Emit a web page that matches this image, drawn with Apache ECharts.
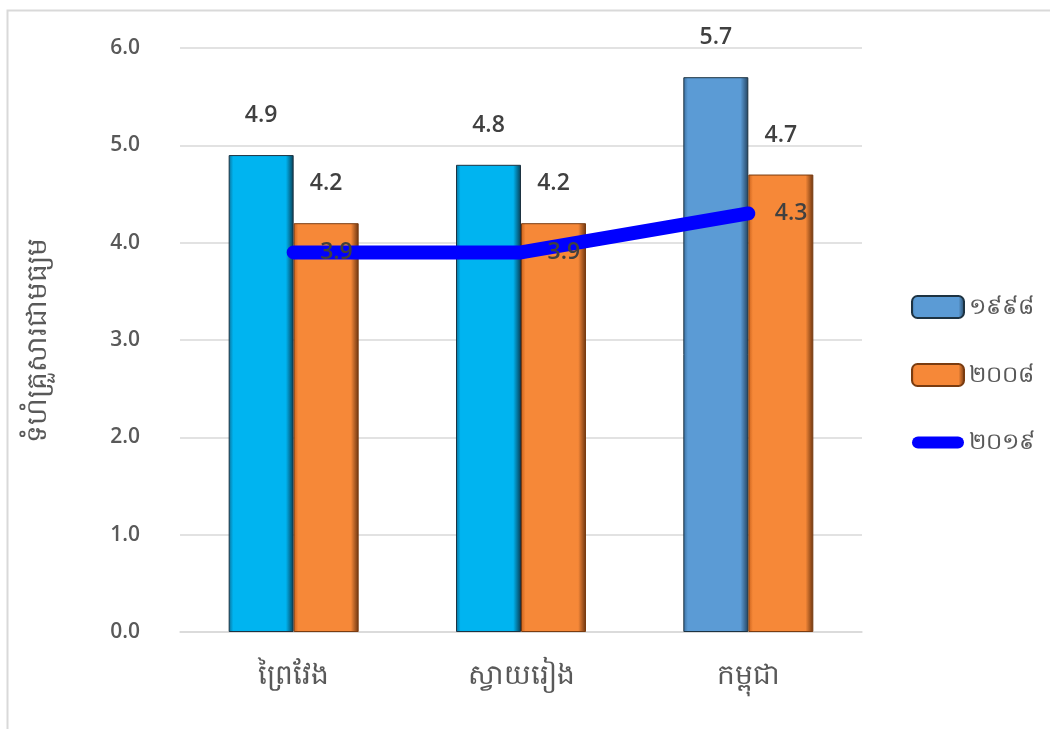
<!DOCTYPE html>
<html>
<head>
<meta charset="utf-8">
<script src="https://cdn.jsdelivr.net/npm/echarts@6/dist/echarts.min.js"></script>
<style>
html,body{margin:0;padding:0;background:#fff;}
#chart{width:1050px;height:729px;}
</style>
</head>
<body>
<div id="chart"></div>
<script>
const categories = ['ព្រៃវែង', 'ស្វាយរៀង', 'កម្ពុជា'];
const seriesNames = ['១៩៩៨', '២០០៨', '២០១៩'];
const values1998 = [4.9, 4.8, 5.7];
const values2008 = [4.2, 4.2, 4.7];
const values2019 = [3.9, 3.9, 4.3];
const yTicks = [0, 1, 2, 3, 4, 5, 6];
const yAxisTitle = 'ទំហំគ្រួសារជាមធ្យម';

function hGrad(edgeL, main, edgeR) {
  return new echarts.graphic.LinearGradient(0, 0, 1, 0, [
    {offset: 0, color: edgeL},
    {offset: 0.07, color: main},
    {offset: 0.88, color: main},
    {offset: 1, color: edgeR}
  ]);
}
const cyan = hGrad('#0b6f96', '#00B4F0', '#083c52');
const steel = hGrad('#3a6f9f', '#5B9BD5', '#24435f');
const orange = hGrad('#c9611c', '#F68838', '#6b3410');

const labelFont = {fontFamily: 'Open Sans', fontWeight: 600, fontSize: 23, color: '#404040'};

const chart = echarts.init(document.getElementById('chart'));
chart.setOption({
  animation: false,
  backgroundColor: '#fff',
  graphic: [{
    type: 'rect', left: 5, top: 8, shape: {width: 1100, height: 800},
    style: {fill: 'none', stroke: '#d9d9d9', lineWidth: 2}, silent: true, z: -10
  }],
  grid: {left: 180, right: 188, top: 48, bottom: 97},
  legend: {
    orient: 'vertical', left: 906, top: 290, itemWidth: 52, itemHeight: 22, itemGap: 44,
    symbolKeepAspect: true,
    textStyle: {fontSize: 23, color: '#595959', fontFamily: 'Noto Sans'},
    data: [
      {name: seriesNames[0]},
      {name: seriesNames[1]},
      {name: seriesNames[2], icon: 'path://M6,0 H46 A6,6 0 0 1 46,12 H6 A6,6 0 0 1 6,0 Z', itemStyle: {color: '#0000FF'}}
    ]
  },
  xAxis: {
    type: 'category', data: categories,
    axisLine: {lineStyle: {color: '#d9d9d9', width: 1.5}},
    axisTick: {show: false},
    axisLabel: {fontSize: 28, color: '#595959', margin: 30, fontFamily: 'Noto Sans'}
  },
  yAxis: {
    type: 'value', min: 0, max: 6, interval: 1,
    name: yAxisTitle, nameLocation: 'middle', nameGap: 128, nameRotate: 90,
    nameTextStyle: {fontSize: 28, color: '#595959', fontFamily: 'Noto Sans'},
    axisLine: {show: false}, axisTick: {show: false},
    splitLine: {lineStyle: {color: '#d9d9d9', width: 1.5}},
    axisLabel: {
      fontSize: 21, color: '#595959', fontWeight: 600, fontFamily: 'Open Sans', margin: 40,
      formatter: v => yTicks.includes(v) ? v.toFixed(1) : ''
    }
  },
  series: [
    {
      name: seriesNames[0], type: 'bar', barWidth: 65, barGap: '0%',
      itemStyle: {color: steel, borderColor: '#1d3342', borderWidth: 1},
      data: values1998.map((v, i) => ({
        value: v,
        itemStyle: {color: i < 2 ? cyan : steel}
      })),
      label: Object.assign({show: true, position: 'top', distance: 28, formatter: p => p.value.toFixed(1)}, labelFont)
    },
    {
      name: seriesNames[1], type: 'bar', barWidth: 65,
      itemStyle: {color: orange, borderColor: '#7a3c10', borderWidth: 1},
      data: values2008,
      label: Object.assign({show: true, position: 'top', distance: 28, formatter: p => p.value.toFixed(1)}, labelFont)
    },
    {
      name: seriesNames[2], type: 'line', data: values2019, z: 5,
      symbol: 'circle', symbolSize: 1, showSymbol: true,
      lineStyle: {color: '#0000FF', width: 14, cap: 'round', join: 'round'},
      itemStyle: {color: '#0000FF'},
      label: Object.assign({show: true, position: 'right', distance: 26, formatter: p => p.value.toFixed(1)}, labelFont)
    }
  ]
});
</script>
</body>
</html>
